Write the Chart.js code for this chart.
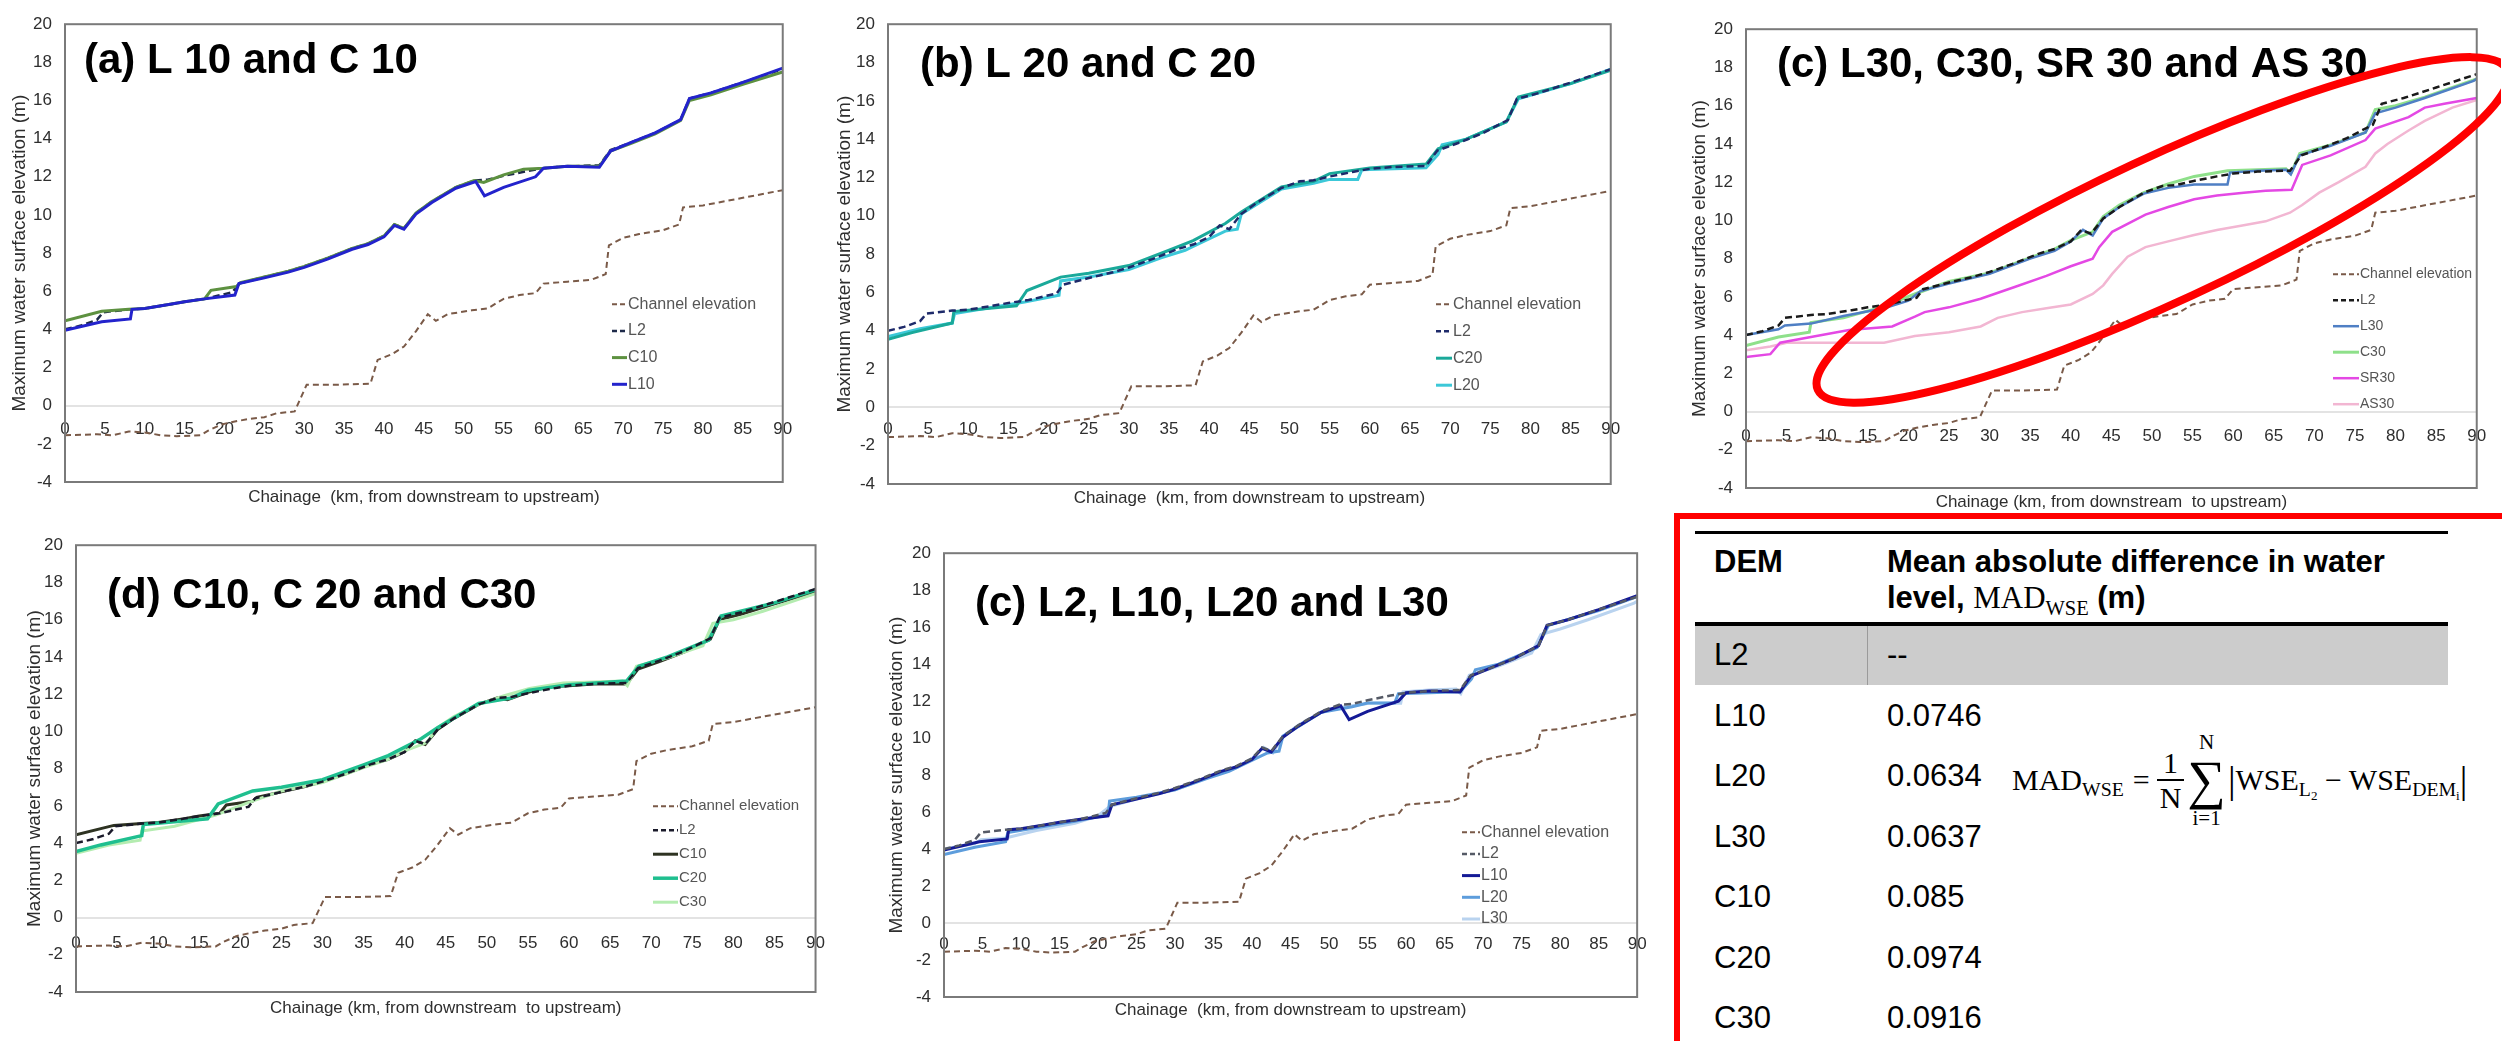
<!DOCTYPE html>
<html>
<head>
<meta charset="utf-8">
<title>Maximum water surface elevation by DEM</title>
<script src="https://cdn.jsdelivr.net/npm/chart.js@4.4.1/dist/chart.umd.min.js"></script>
<style>
  body { margin: 0; width: 2502px; height: 1041px; overflow: hidden; background: #fff; position: relative;
         font-family: "Liberation Sans", Arial, sans-serif; }
  .panel { position: absolute; }
  .panel canvas { display: block; }
  #madBox { position: absolute; left: 1674px; top: 513px; width: 900px; height: 600px;
            border: 6px solid #ff0000; box-sizing: border-box; }
  .rule { position: absolute; background: #000; }
  .txt { position: absolute; font-size: 31px; line-height: 36px; height: 36px; white-space: nowrap; color: #000; }
  .bold { font-weight: bold; }
  .serif { font-family: "Liberation Serif", "DejaVu Serif", serif; font-weight: normal; }
  sub { font-size: 0.66em; vertical-align: -0.32em; line-height: 0; }
  #formula { position: absolute; left: 2012px; top: 724px; height: 112px; display: flex; align-items: center;
             font-size: 30px; white-space: nowrap; }
  .frac { display: inline-flex; flex-direction: column; align-items: center; line-height: 1.1; margin: 0 3px 0 7px; }
  .frac .den { border-top: 2px solid #000; padding: 0 3px; }
  .sum { display: inline-flex; flex-direction: column; align-items: center; margin-right: 2px; }
  .sum .sig { font-size: 54px; line-height: 52px; }
  .sum .lim { font-size: 21px; line-height: 24px; }
  .bar { font-size: 38px; line-height: 40px; }
</style>
</head>
<body>
<div id="madBox"></div>
<div class="rule" style="left:1695px;top:531px;width:753px;height:3px"></div>
<div class="txt bold" style="left:1714px;top:544px">DEM</div>
<div class="txt bold" style="left:1887px;top:544px">Mean absolute difference in water</div>
<div class="txt bold" style="left:1887px;top:580px">level, <span class="serif">MAD<sub>WSE</sub></span> (m)</div>
<div class="rule" style="left:1695px;top:622px;width:753px;height:4px"></div>
<div style="position:absolute;left:1695px;top:626px;width:753px;height:59px;background:#cccccc"></div>
<div style="position:absolute;left:1867px;top:626px;width:1px;height:59px;background:#9a9a9a"></div>
<div id="rows"></div>
<div id="formula" class="serif">
  <span>MAD<sub>WSE</sub></span>
  <span style="margin-left:9px">=</span>
  <span class="frac"><span>1</span><span class="den">N</span></span>
  <span class="sum"><span class="lim">N</span><span class="sig">&#8721;</span><span class="lim">i=1</span></span>
  <span class="bar">|</span><span>WSE<sub>L<sub>2</sub></sub> &#8722; WSE<sub>DEM<sub>i</sub></sub></span><span class="bar">|</span>
</div>

<script>
// ---- values ----
const kmTicks = [0, 5, 10, 15, 20, 25, 30, 35, 40, 45, 50, 55, 60, 65, 70, 75, 80, 85, 90];
const wseTicks = [-4, -2, 0, 2, 4, 6, 8, 10, 12, 14, 16, 18, 20];

const kmChannel = [0, 4, 6, 8, 10, 12, 14, 17, 18, 19.5, 21, 23, 25, 26.5, 28.8, 30.3, 34, 38.3, 39.2, 41, 42.5, 44, 45.5, 46.5, 48, 51, 53, 55, 57, 59, 60, 63, 66, 67.8, 68.2, 70, 72, 75, 77, 77.5, 80, 85, 90];
const elevChannel = [-1.55, -1.5, -1.55, -1.35, -1.4, -1.55, -1.6, -1.55, -1.3, -1.0, -0.85, -0.7, -0.6, -0.4, -0.3, 1.1, 1.1, 1.15, 2.4, 2.7, 3.1, 3.9, 4.8, 4.45, 4.8, 5.0, 5.1, 5.6, 5.8, 5.9, 6.4, 6.5, 6.6, 6.9, 8.4, 8.8, 9.0, 9.2, 9.5, 10.4, 10.5, 10.9, 11.3];

const kmL2 = [0, 2, 4, 4.8, 8, 10, 13, 15, 17.5, 19, 21, 21.8, 25, 28, 30, 33, 36, 38, 40, 41.3, 42.5, 44, 46, 49, 51.3, 53, 55, 58, 60, 63, 67, 68.4, 71, 74, 77.2, 78.3, 81, 85, 90];
const wseL2 = [4.0, 4.2, 4.5, 4.9, 5.05, 5.1, 5.3, 5.45, 5.6, 5.75, 5.95, 6.4, 6.75, 7.05, 7.3, 7.75, 8.25, 8.5, 8.9, 9.5, 9.3, 10.1, 10.7, 11.45, 11.8, 11.85, 12.05, 12.3, 12.45, 12.55, 12.6, 13.4, 13.8, 14.3, 15.0, 16.1, 16.4, 16.95, 17.65];

const kmC10 = [0, 4.6, 8, 10, 13, 15, 17.5, 18.3, 21.5, 22, 25, 28, 30, 33, 36, 38, 40, 41.3, 42.5, 44, 46, 49, 51.3, 52.5, 55, 57.5, 60, 63, 67, 68.4, 71, 74, 77.2, 78.3, 81, 85, 90];
const wseC10 = [4.45, 4.95, 5.05, 5.1, 5.3, 5.45, 5.6, 6.05, 6.25, 6.45, 6.75, 7.05, 7.3, 7.75, 8.25, 8.5, 8.9, 9.5, 9.3, 10.1, 10.7, 11.45, 11.8, 11.7, 12.1, 12.4, 12.45, 12.55, 12.55, 13.35, 13.75, 14.25, 14.95, 16.0, 16.3, 16.85, 17.5];

const kmL10 = [0, 4.6, 8.2, 8.4, 10, 13, 15, 17.5, 21.3, 21.8, 25, 28, 30, 33, 36, 38, 40, 41.3, 42.5, 44, 46, 49, 51.5, 52.6, 55, 59, 60, 63, 67, 68.4, 71, 74, 77.2, 78.3, 81, 85, 90];
const wseL10 = [3.95, 4.4, 4.55, 5.05, 5.1, 5.3, 5.45, 5.6, 5.8, 6.4, 6.7, 7.0, 7.25, 7.7, 8.2, 8.45, 8.85, 9.45, 9.25, 10.05, 10.65, 11.4, 11.75, 11.0, 11.45, 12.0, 12.45, 12.55, 12.5, 13.35, 13.8, 14.3, 15.0, 16.1, 16.4, 16.95, 17.7];

const kmC20 = [0, 3, 8, 8.2, 16, 17.3, 21.5, 25, 30, 35, 38, 42, 44, 49, 53, 55, 60, 67, 68.5, 72, 77, 78.5, 85, 90];
const wseC20 = [3.55, 3.9, 4.4, 5.0, 5.3, 6.1, 6.8, 7.0, 7.4, 8.2, 8.7, 9.6, 10.2, 11.5, 11.8, 12.2, 12.5, 12.7, 13.5, 14.0, 14.9, 16.2, 16.9, 17.6];

const kmL20 = [0, 4, 8, 8.3, 17, 21.3, 21.5, 25, 30, 34, 37, 38, 42, 43.5, 44, 49, 53, 55, 58.5, 59, 67, 68.5, 69, 72, 77, 78.5, 85, 90];
const wseL20 = [3.7, 4.1, 4.4, 4.9, 5.5, 5.85, 6.6, 6.8, 7.2, 7.8, 8.2, 8.4, 9.2, 9.3, 10.1, 11.4, 11.7, 11.9, 11.9, 12.4, 12.5, 13.2, 13.7, 14.0, 14.9, 16.1, 16.9, 17.65];

const kmL30 = [0, 4, 4.8, 8, 12, 17, 20, 21.5, 25, 30, 35, 38, 40, 41.5, 42.7, 44, 46, 49, 52, 55.2, 59.3, 59.6, 63, 66.5, 67.1, 68.2, 72, 76.3, 77.5, 80, 83.6, 89.6, 90];
const wseL30 = [4.0, 4.3, 4.5, 4.6, 5.0, 5.4, 5.8, 6.3, 6.7, 7.2, 8.0, 8.4, 8.9, 9.5, 9.2, 10.1, 10.7, 11.4, 11.7, 11.88, 11.88, 12.5, 12.6, 12.65, 12.4, 13.4, 13.9, 14.6, 15.6, 15.9, 16.4, 17.3, 17.4];

const kmC30 = [0, 4, 7.8, 8, 12, 17, 20.8, 25, 30, 35, 38, 40, 42.7, 44, 46, 49, 52, 55.2, 59.3, 63, 66.5, 67.1, 68.2, 72, 76.3, 77.5, 80, 83.6, 90];
const wseC30 = [3.45, 3.9, 4.15, 4.65, 4.9, 5.5, 6.15, 6.8, 7.25, 8.05, 8.5, 8.95, 9.4, 10.2, 10.8, 11.45, 11.9, 12.3, 12.6, 12.65, 12.7, 12.45, 13.5, 13.95, 14.6, 15.8, 16.0, 16.45, 17.4];

const kmSR30 = [0, 3, 4.2, 8, 12.7, 18, 20.8, 22, 25, 28.9, 33, 37, 40, 42.7, 43.5, 45.1, 49.2, 52, 55.2, 58, 61.3, 64, 67.2, 68.5, 72, 76.3, 77.5, 81.6, 83.6, 86, 90];
const wseSR30 = [2.85, 3.0, 3.6, 3.9, 4.27, 4.45, 4.96, 5.2, 5.45, 5.9, 6.5, 7.1, 7.6, 8.0, 8.6, 9.4, 10.3, 10.7, 11.1, 11.3, 11.45, 11.55, 11.6, 12.9, 13.4, 14.2, 14.8, 15.4, 15.9, 16.1, 16.4];

const kmAS30 = [0, 3, 5, 12.7, 17, 20.8, 25, 28.9, 31, 34, 37, 40, 42.7, 44, 45.1, 47, 49.2, 52, 55.2, 58, 61.3, 64, 67, 68.5, 70.6, 73, 76.3, 77.5, 79, 81.6, 83.6, 87, 90];
const wseAS30 = [3.2, 3.4, 3.6, 3.6, 3.6, 3.95, 4.15, 4.45, 4.9, 5.2, 5.4, 5.6, 6.15, 6.6, 7.2, 8.1, 8.6, 8.9, 9.23, 9.5, 9.74, 9.95, 10.4, 10.8, 11.45, 12.0, 12.8, 13.5, 14.0, 14.7, 15.2, 15.9, 16.3];

const demNames = ['L2', 'L10', 'L20', 'L30', 'C10', 'C20', 'C30'];
const madValues = ['--', '0.0746', '0.0634', '0.0637', '0.085', '0.0974', '0.0916'];

// ---- table rows ----
const rows = document.getElementById('rows');
demNames.forEach((name, i) => {
  const top = 655 + i * 60.5 - 18;
  [[name, 1714], [madValues[i], 1887]].forEach(([text, left]) => {
    const d = document.createElement('div');
    d.className = 'txt';
    d.style.left = left + 'px';
    d.style.top = top + 'px';
    d.textContent = text;
    rows.appendChild(d);
  });
});

// ---- charts ----
const FONT = '"Liberation Sans", Arial, sans-serif';
const INK = '#2e2e2e';

const toPoints = (km, v) => km.map((k, i) => ({ x: k, y: v[i] }));

const channelSet = () => ({ label: 'Channel elevation', data: toPoints(kmChannel, elevChannel),
  borderColor: '#7a5a48', borderWidth: 2, borderDash: [6, 4] });
const l2Set = (color, order) => ({ label: 'L2', data: toPoints(kmL2, wseL2),
  borderColor: color, borderWidth: 2.5, borderDash: [7, 4], order: order || 0 });
const solidSet = (label, km, v, color, width, order) => ({ label, data: toPoints(km, v),
  borderColor: color, borderWidth: width || 3, order: order || 0 });

const panels = [
  { frame: [65, 15, 792, 482], caption: '(a) L 10 and C 10', capX: 19, capY: 49,
    xTitle: 'Chainage  (km, from downstream to upstream)', yPad: 8.6, xPad: 4.8, tickPad: 13.8,
    legend: { x: 547, y: 280, gap: 26.7, len: 15, size: 16 },
    datasets: () => [channelSet(), l2Set('#1e2a4a', 1),
      solidSet('C10', kmC10, wseC10, '#5d9140', 3), solidSet('L10', kmL10, wseL10, '#2323cc', 3, -1)] },
  { frame: [888, 15, 1618, 484], caption: '(b) L 20 and C 20', capX: 32, capY: 53,
    xTitle: 'Chainage  (km, from downstream to upstream)', yPad: 10.6, xPad: 5.8, tickPad: 11.8,
    legend: { x: 548, y: 280, gap: 27, len: 16, size: 16 },
    datasets: () => [channelSet(), l2Set('#1e2a6a'),
      solidSet('C20', kmC20, wseC20, '#1aa99a'), solidSet('L20', kmL20, wseL20, '#3cc8d8')] },
  { frame: [1746, 20, 2487, 488], caption: '(c) L30, C30, SR 30 and AS 30', capX: 31, capY: 48,
    xTitle: 'Chainage (km, from downstream  to upstream)', yPad: 7.6, xPad: 5.8, tickPad: 14.8,
    legend: { x: 587, y: 245, gap: 26, len: 26, size: 14 },
    ellipse: { x: 51.3, y: 9.5, rx: 380, ry: 72, angle: -24.9 },
    datasets: () => [channelSet(), l2Set('#1a1a1a'),
      solidSet('L30', kmL30, wseL30, '#4f7fc4', 2.5), solidSet('C30', kmC30, wseC30, '#8ee08a', 3),
      solidSet('SR30', kmSR30, wseSR30, '#e448e4', 2.5), solidSet('AS30', kmAS30, wseAS30, '#f2b6d2', 2.5)] },
  { frame: [76, 536, 827, 992], caption: '(d) C10, C 20 and C30', capX: 31, capY: 63,
    xTitle: 'Chainage (km, from downstream  to upstream)', yPad: 12.6, xPad: 3.8, tickPad: 16,
    legend: { x: 577, y: 261, gap: 24, len: 25, size: 15 },
    datasets: () => [channelSet(), l2Set('#1a1a2a', -1),
      solidSet('C10', kmC10, wseC10, '#2e3322', 3, 2), solidSet('C20', kmC20, wseC20, '#1fbf8f', 3.5, 1),
      solidSet('C30', kmC30, wseC30, '#b4ecb0', 3, 1)] },
  { frame: [944, 544, 1644, 997], caption: '(c) L2, L10, L20 and L30', capX: 31, capY: 63,
    xTitle: 'Chainage  (km, from downstream to upstream)', yPad: 6.1, xPad: 6.8, tickPad: 11.4,
    legend: { x: 518, y: 279, gap: 21.7, len: 18, size: 16 },
    datasets: () => [channelSet(), l2Set('#555a66'),
      solidSet('L10', kmL10, wseL10, '#141a96'), solidSet('L20', kmL20, wseL20, '#5d9ddc'),
      solidSet('L30', kmL30, wseL30, '#b9d3ef')] }
];

// frame, in-plot legend, panel caption and the highlight ellipse
const panelDecor = {
  id: 'panelDecor',
  afterDraw(chart, args, o) {
    const { ctx, chartArea: a, scales } = chart;
    ctx.save();
    ctx.strokeStyle = '#7a7a7a';
    ctx.lineWidth = 2;
    ctx.strokeRect(a.left, a.top, a.right - a.left, a.bottom - a.top);

    const lg = o.legend;
    ctx.font = lg.size + 'px ' + FONT;
    ctx.textBaseline = 'middle';
    chart.data.datasets.forEach((ds, i) => {
      const x = a.left + lg.x, y = a.top + lg.y + i * lg.gap;
      ctx.setLineDash(ds.borderDash ? [5, 3] : []);
      ctx.strokeStyle = ds.borderColor;
      ctx.lineWidth = ds.borderWidth;
      ctx.beginPath();
      ctx.moveTo(x, y);
      ctx.lineTo(x + lg.len, y);
      ctx.stroke();
      ctx.fillStyle = '#555';
      ctx.fillText(ds.label, x + lg.len + 1, y);
    });
    ctx.setLineDash([]);

    ctx.fillStyle = '#000';
    ctx.font = 'bold 42px ' + FONT;
    ctx.textBaseline = 'alphabetic';
    ctx.fillText(o.caption, a.left + o.capX, a.top + o.capY);

    if (o.ellipse) {
      const e = o.ellipse;
      ctx.strokeStyle = '#ff0000';
      ctx.lineWidth = 8;
      ctx.beginPath();
      ctx.ellipse(scales.x.getPixelForValue(e.x), scales.y.getPixelForValue(e.y),
        e.rx, e.ry, e.angle * Math.PI / 180, 0, 2 * Math.PI);
      ctx.stroke();
    }
    ctx.restore();
  }
};

panels.forEach(p => {
  const [L, T, R, B] = p.frame;
  const box = document.createElement('div');
  box.className = 'panel';
  box.style.left = (L - 65) + 'px';
  box.style.top = (T - 14) + 'px';
  const canvas = document.createElement('canvas');
  canvas.width = R - L + 65 + 14;
  canvas.height = B - T + 14 + 30;
  box.appendChild(canvas);
  document.body.appendChild(box);

  const datasets = p.datasets().map(d => Object.assign({ xAxisID: 'x', yAxisID: 'y' }, d));

  new Chart(canvas.getContext('2d'), {
    type: 'line',
    data: { datasets },
    options: {
      responsive: false,
      animation: false,
      events: [],
      layout: { padding: { left: 0, top: 14, right: 14, bottom: 0 } },
      elements: { point: { radius: 0 }, line: { tension: 0, fill: false } },
      plugins: {
        legend: { display: false },
        tooltip: { enabled: false },
        panelDecor: { caption: p.caption, capX: p.capX, capY: p.capY, legend: p.legend, ellipse: p.ellipse }
      },
      scales: {
        x: {
          type: 'linear', min: 0, max: 90,
          grid: { display: false, drawTicks: false }, border: { display: false },
          ticks: { display: false },
          title: { display: true, text: p.xTitle, color: INK, font: { size: 17, family: FONT },
                   padding: { top: 0, bottom: p.xPad } },
          afterFit: s => { s.height = 30; }
        },
        xt: {
          axis: 'x', type: 'linear', position: { y: 0 }, min: 0, max: 90,
          grid: { display: false, drawTicks: false }, border: { display: false },
          afterBuildTicks: s => { s.ticks = kmTicks.map(v => ({ value: v })); },
          ticks: { autoSkip: false, maxRotation: 0, padding: p.tickPad, color: INK,
                   font: { size: 17, family: FONT } }
        },
        y: {
          type: 'linear', min: -4, max: 20,
          afterBuildTicks: s => { s.ticks = wseTicks.map(v => ({ value: v })); },
          grid: { drawTicks: false, lineWidth: 2,
                  color: c => (c.tick && c.tick.value === 0) ? '#e3e3e3' : 'rgba(0,0,0,0)' },
          border: { display: false },
          ticks: { padding: 13, color: INK, font: { size: 17, family: FONT } },
          title: { display: true, text: 'Maximum water surface elevation (m)', color: INK,
                   font: { size: 19, family: FONT }, padding: { top: p.yPad, bottom: 0 } },
          afterFit: s => { s.width = 65; }
        }
      }
    },
    plugins: [panelDecor]
  });
});
</script>
</body>
</html>
